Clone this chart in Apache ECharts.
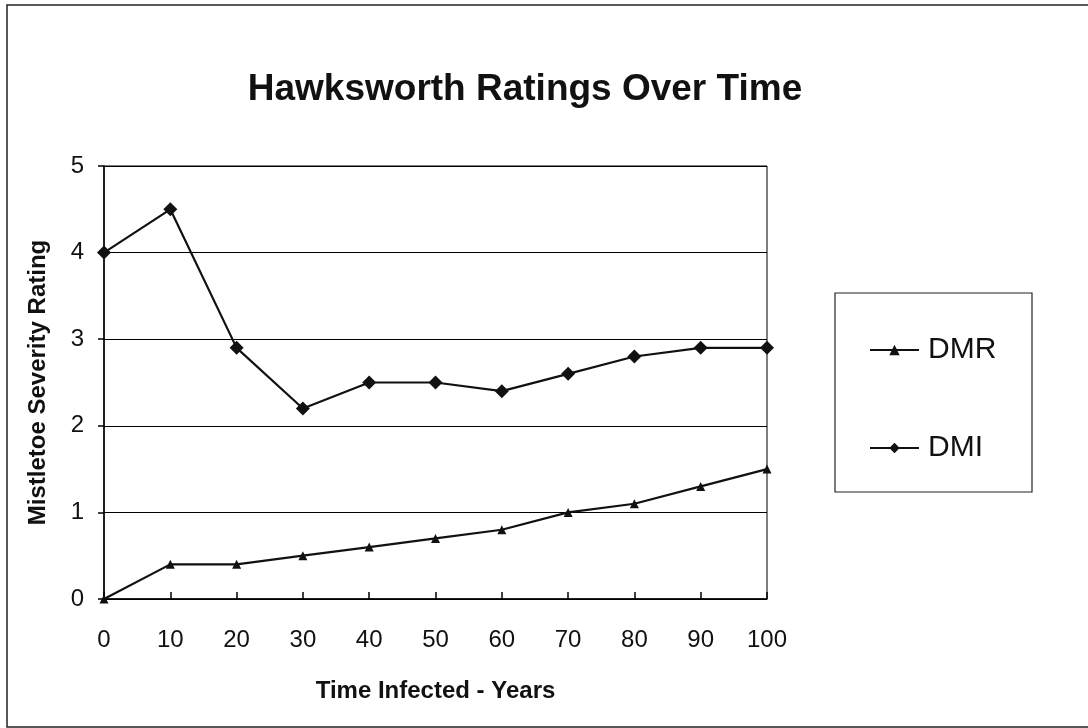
<!DOCTYPE html>
<html>
<head>
<meta charset="utf-8">
<script src="https://cdn.jsdelivr.net/npm/echarts@6/dist/echarts.min.js"></script>
<style>
  html, body { margin: 0; padding: 0; background: #fff; }
  #chart { width: 1088px; height: 728px; }
</style>
</head>
<body>
<div id="chart"></div>
<script>
// values
const years = [0, 10, 20, 30, 40, 50, 60, 70, 80, 90, 100];
const dmr = [0, 0.4, 0.4, 0.5, 0.6, 0.7, 0.8, 1.0, 1.1, 1.3, 1.5];
const dmi = [4.0, 4.5, 2.9, 2.2, 2.5, 2.5, 2.4, 2.6, 2.8, 2.9, 2.9];

const font = '"Liberation Sans", Arial, sans-serif';

const chart = echarts.init(document.getElementById('chart'));

const option = {
  backgroundColor: '#fff',
  animation: false,
  title: {
    text: 'Hawksworth Ratings Over Time',
    left: 520,
    textAlign: 'center',
    top: 66,
    textStyle: { fontFamily: font, fontSize: 37, fontWeight: 'bold', color: '#111' }
  },
  grid: {
    left: 104,
    right: 1088 - 767,
    top: 166,
    bottom: 728 - 599,
    show: true,
    borderColor: '#000',
    borderWidth: 1
  },
  legend: {
    orient: 'vertical',
    left: 864,
    top: 330,
    itemWidth: 49,
    itemHeight: 13,
    itemGap: 68,
    textStyle: { fontFamily: font, fontSize: 30, color: '#111', padding: [0, 0, 0, 4] },
    data: ['DMR', 'DMI']
  },
  xAxis: {
    type: 'value',
    min: 0,
    max: 100,
    interval: 10,
    name: 'Time Infected - Years',
    nameLocation: 'middle',
    nameGap: 80,
    nameTextStyle: { fontFamily: font, fontSize: 24, fontWeight: 'bold', color: '#111' },
    axisLine: { lineStyle: { color: '#000', width: 1.5 } },
    axisTick: { inside: true, length: 7, lineStyle: { color: '#000', width: 1.5 } },
    axisLabel: { fontFamily: font, fontSize: 24, color: '#111', margin: 29 },
    splitLine: { show: false }
  },
  yAxis: {
    type: 'value',
    min: 0,
    max: 5,
    interval: 1,
    name: 'Mistletoe Severity Rating',
    nameLocation: 'middle',
    nameGap: 54,
    nameTextStyle: { fontFamily: font, fontSize: 24, fontWeight: 'bold', color: '#111' },
    axisLine: { show: true, lineStyle: { color: '#000', width: 1.5 } },
    axisTick: { show: true, length: 6, lineStyle: { color: '#000', width: 1.5 } },
    axisLabel: { fontFamily: font, fontSize: 24, color: '#111', margin: 20 },
    splitLine: { show: true, lineStyle: { color: '#000', width: 1.2 } }
  },
  series: [
    {
      name: 'DMR',
      type: 'line',
      data: years.map((x, i) => [x, dmr[i]]),
      symbol: 'triangle',
      symbolSize: 9,
      itemStyle: { color: '#111' },
      lineStyle: { color: '#111', width: 2.2 }
    },
    {
      name: 'DMI',
      type: 'line',
      data: years.map((x, i) => [x, dmi[i]]),
      symbol: 'diamond',
      symbolSize: 14,
      itemStyle: { color: '#111' },
      lineStyle: { color: '#111', width: 2.2 }
    }
  ],
  graphic: [
    {
      type: 'polyline',
      shape: { points: [[1088, 5], [7, 5], [7, 727], [1088, 727]] },
      style: { stroke: '#222', lineWidth: 1.5, fill: null }
    },
    {
      type: 'rect',
      shape: { x: 835, y: 293, width: 197, height: 199 },
      style: { stroke: '#222', lineWidth: 1.2, fill: null }
    }
  ]
};

chart.setOption(option);
</script>
</body>
</html>
